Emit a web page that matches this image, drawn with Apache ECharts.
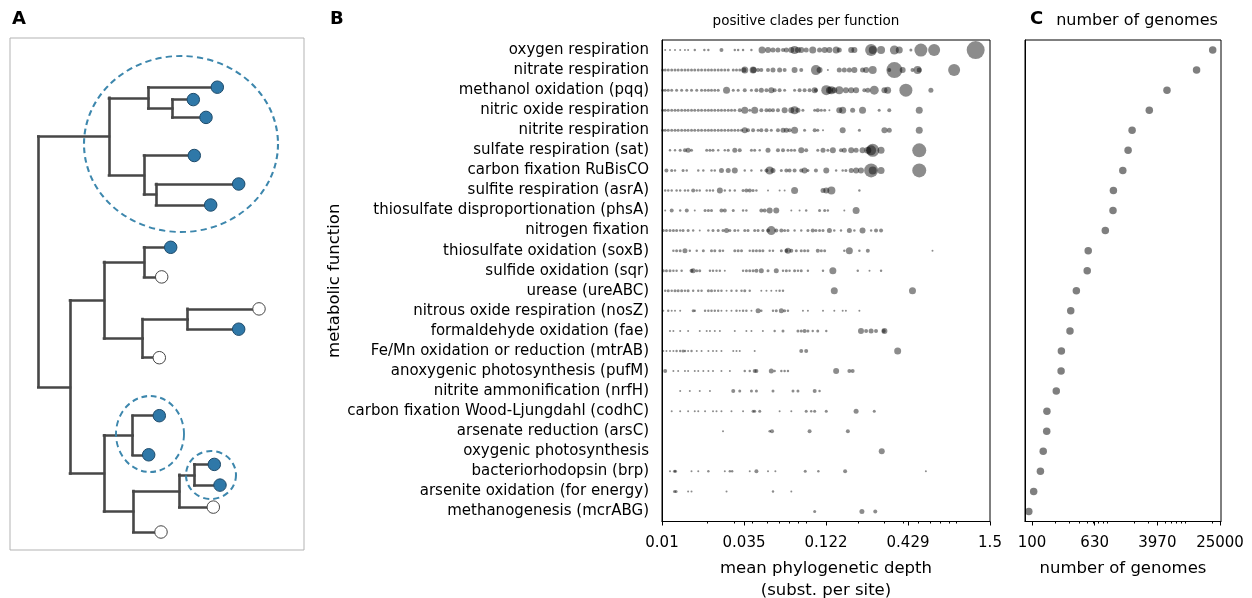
<!DOCTYPE html>
<html>
<head>
<meta charset="utf-8">
<script src="https://cdn.jsdelivr.net/npm/echarts@6/dist/echarts.min.js"></script>
<style>
  html, body { margin: 0; padding: 0; background: #fff; }
  #chart { width: 1252px; height: 598px; }
</style>
</head>
<body>
<div id="chart"></div>
<script>
var functionNames = [
  'oxygen respiration', 'nitrate respiration', 'methanol oxidation (pqq)', 'nitric oxide respiration',
  'nitrite respiration', 'sulfate respiration (sat)', 'carbon fixation RuBisCO', 'sulfite respiration (asrA)',
  'thiosulfate disproportionation (phsA)', 'nitrogen fixation', 'thiosulfate oxidation (soxB)', 'sulfide oxidation (sqr)',
  'urease (ureABC)', 'nitrous oxide respiration (nosZ)', 'formaldehyde oxidation (fae)', 'Fe/Mn oxidation or reduction (mtrAB)',
  'anoxygenic photosynthesis (pufM)', 'nitrite ammonification (nrfH)', 'carbon fixation Wood-Ljungdahl (codhC)', 'arsenate reduction (arsC)',
  'oxygenic photosynthesis', 'bacteriorhodopsin (brp)', 'arsenite oxidation (for energy)', 'methanogenesis (mcrABG)'
];

// number of genomes carrying each function (panel C)
var genomeCounts = [20180, 12570, 5270, 3135, 1892, 1682, 1439, 1092, 1079, 861, 521, 506,
  368, 312, 305, 237, 235, 204, 155, 154, 139, 128, 105, 91];

// positive clades per function: [mean phylogenetic depth, genomes in clade]
var positiveClades = [
  // oxygen respiration
  [[0.0105,4],[0.0113,4],[0.0122,4],[0.0132,4],[0.0142,4],[0.0149,4],[0.0165,6],[0.0191,6],[0.0203,6],[0.0248,16],
   [0.0304,6],[0.0320,6],[0.0345,6],[0.0392,6],[0.0461,49],[0.0505,36],[0.0545,25],[0.0588,25],[0.0635,16],[0.0668,25],
   [0.0721,36],[0.0758,64],[0.0798,36],[0.0839,36],[0.0905,25],[0.100,49],[0.111,25],[0.120,36],[0.129,36],[0.143,49],
   [0.150,25],[0.180,36],[0.189,36],[0.244,144],[0.250,64],[0.284,64],[0.348,81],[0.375,49],[0.448,9],[0.522,169],
   [0.639,144],[1.205,324]],
  // nitrate respiration
  [[0.0101,9],[0.0105,9],[0.0110,9],[0.0116,9],[0.0122,9],[0.0128,9],[0.0135,9],[0.0142,9],[0.0149,9],[0.0157,9],
   [0.0165,9],[0.0174,9],[0.0183,9],[0.0193,9],[0.0203,9],[0.0213,9],[0.0224,9],[0.0236,9],[0.0248,9],[0.0261,9],
   [0.0275,9],[0.0297,9],[0.0312,9],[0.0328,9],[0.0350,25],[0.0354,49],[0.0402,49],[0.0405,36],[0.0434,16],[0.0456,16],
   [0.0505,16],[0.0545,25],[0.0603,25],[0.0651,16],[0.0758,36],[0.0839,16],[0.105,100],[0.111,36],[0.126,4],[0.150,25],
   [0.162,25],[0.175,25],[0.189,36],[0.214,25],[0.226,36],[0.250,64],[0.322,16],[0.348,256],[0.395,36],[0.459,16],
   [0.496,64],[0.509,25],[0.867,144]],
  // methanol oxidation (pqq)
  [[0.0101,9],[0.0105,9],[0.0110,9],[0.0116,9],[0.0125,9],[0.0135,9],[0.0146,9],[0.0157,9],[0.0170,9],[0.0183,9],
   [0.0193,9],[0.0203,9],[0.0213,9],[0.0224,9],[0.0236,9],[0.0268,49],[0.0297,9],[0.0320,9],[0.0354,16],[0.0392,9],
   [0.0423,16],[0.0456,25],[0.0493,16],[0.0531,36],[0.0559,16],[0.0603,16],[0.0651,9],[0.0758,9],[0.0818,16],[0.0883,16],
   [0.0953,16],[0.103,36],[0.105,16],[0.123,100],[0.129,49],[0.133,64],[0.139,36],[0.150,64],[0.166,36],[0.180,36],
   [0.194,36],[0.220,16],[0.232,25],[0.256,81],[0.299,36],[0.314,49],[0.415,169],[0.608,25]],
  // nitric oxide respiration
  [[0.0101,9],[0.0105,9],[0.0110,9],[0.0116,9],[0.0122,9],[0.0128,9],[0.0135,9],[0.0142,9],[0.0149,9],[0.0157,9],
   [0.0165,9],[0.0174,9],[0.0183,9],[0.0193,9],[0.0203,9],[0.0213,9],[0.0224,9],[0.0236,9],[0.0248,9],[0.0261,9],
   [0.0275,9],[0.0289,9],[0.0304,9],[0.0328,16],[0.0354,49],[0.0382,9],[0.0412,49],[0.0456,16],[0.0493,16],[0.0518,16],
   [0.0545,16],[0.0588,16],[0.0651,36],[0.0721,36],[0.0758,64],[0.0798,25],[0.0861,9],[0.103,9],[0.108,16],[0.114,9],
   [0.120,9],[0.129,4],[0.150,36],[0.158,49],[0.184,25],[0.214,49],[0.276,9],[0.322,16],[0.509,49]],
  // nitrite respiration
  [[0.0101,9],[0.0105,9],[0.0110,9],[0.0116,9],[0.0122,9],[0.0128,9],[0.0135,9],[0.0142,9],[0.0149,9],[0.0157,9],
   [0.0165,9],[0.0174,9],[0.0183,9],[0.0193,9],[0.0203,9],[0.0213,9],[0.0224,9],[0.0236,9],[0.0248,9],[0.0261,9],
   [0.0275,9],[0.0289,9],[0.0304,9],[0.0320,9],[0.0337,9],[0.0354,36],[0.0372,16],[0.0402,16],[0.0434,9],[0.0456,16],
   [0.0493,16],[0.0531,9],[0.0588,16],[0.0635,25],[0.0668,25],[0.0702,16],[0.0758,49],[0.0883,9],[0.103,16],[0.108,9],
   [0.117,4],[0.158,36],[0.204,9],[0.299,36],[0.322,25],[0.509,49]],
  // sulfate respiration (sat)
  [[0.0113,6],[0.0122,6],[0.0132,9],[0.0142,16],[0.0149,25],[0.0157,9],[0.0198,9],[0.0208,9],[0.0218,9],[0.0236,6],
   [0.0261,6],[0.0275,9],[0.0304,25],[0.0328,16],[0.0392,9],[0.0412,9],[0.0445,6],[0.0505,25],[0.0588,16],[0.0635,16],
   [0.0685,9],[0.0721,9],[0.0758,9],[0.0839,36],[0.0905,16],[0.108,9],[0.117,25],[0.126,9],[0.136,36],[0.154,16],
   [0.162,25],[0.180,36],[0.194,25],[0.214,36],[0.232,49],[0.244,100],[0.250,169],[0.284,49],[0.509,196]],
  // carbon fixation RuBisCO
  [[0.0107,16],[0.0116,9],[0.0122,6],[0.0138,9],[0.0146,6],[0.0174,6],[0.0188,6],[0.0213,6],[0.0224,6],[0.0248,25],
   [0.0275,25],[0.0304,36],[0.0354,6],[0.0392,6],[0.0456,6],[0.0493,16],[0.0518,64],[0.0545,25],[0.0619,9],[0.0668,16],
   [0.0702,16],[0.0758,16],[0.0839,16],[0.0883,36],[0.0929,9],[0.105,16],[0.123,36],[0.143,6],[0.158,6],[0.166,9],
   [0.180,25],[0.194,36],[0.209,36],[0.244,196],[0.250,64],[0.284,49],[0.509,196]],
  // sulfite respiration (asrA)
  [[0.0105,6],[0.0110,6],[0.0116,6],[0.0125,6],[0.0132,6],[0.0142,6],[0.0149,6],[0.0161,16],[0.0170,6],[0.0178,6],
   [0.0198,6],[0.0208,6],[0.0218,6],[0.0242,36],[0.0261,6],[0.0282,6],[0.0304,6],[0.0345,9],[0.0363,16],[0.0382,16],
   [0.0402,9],[0.0423,6],[0.0505,4],[0.0603,4],[0.0651,4],[0.0758,49],[0.117,25],[0.123,36],[0.133,64],[0.204,6]],
  // thiosulfate disproportionation (phsA)
  [[0.0105,4],[0.0116,16],[0.0132,6],[0.0146,16],[0.0165,4],[0.0193,9],[0.0203,9],[0.0213,9],[0.0248,16],[0.0261,16],
   [0.0297,9],[0.0345,6],[0.0363,6],[0.0456,16],[0.0480,16],[0.0518,36],[0.0573,36],[0.0721,4],[0.0818,4],[0.0905,6],
   [0.111,9],[0.120,9],[0.126,6],[0.162,4],[0.194,49]],
  // nitrogen fixation
  [[0.0102,9],[0.0107,9],[0.0113,9],[0.0119,9],[0.0125,9],[0.0132,6],[0.0138,9],[0.0149,9],[0.0161,6],[0.0178,4],
   [0.0203,6],[0.0218,9],[0.0236,9],[0.0254,9],[0.0268,25],[0.0282,9],[0.0304,9],[0.0320,6],[0.0354,9],[0.0372,9],
   [0.0412,9],[0.0434,9],[0.0467,9],[0.0505,16],[0.0531,81],[0.0573,16],[0.0619,16],[0.0651,9],[0.0685,9],[0.0758,6],
   [0.0839,6],[0.0929,9],[0.100,16],[0.105,9],[0.111,9],[0.117,9],[0.129,25],[0.139,6],[0.154,6],[0.175,25],
   [0.189,6],[0.214,36],[0.244,6],[0.263,16],[0.284,16]],
  // thiosulfate oxidation (soxB)
  [[0.0119,6],[0.0125,9],[0.0132,9],[0.0142,25],[0.0153,6],[0.0170,6],[0.0188,9],[0.0213,9],[0.0224,9],[0.0242,9],
   [0.0254,6],[0.0304,9],[0.0320,9],[0.0337,9],[0.0382,6],[0.0402,9],[0.0423,9],[0.0445,9],[0.0467,9],[0.0518,6],
   [0.0545,6],[0.0619,9],[0.0668,16],[0.0685,36],[0.0721,16],[0.0778,9],[0.0839,9],[0.0883,9],[0.0929,9],[0.108,16],
   [0.114,9],[0.120,9],[0.162,6],[0.175,49],[0.204,6],[0.232,16],[0.623,4]],
  // sulfide oxidation (sqr)
  [[0.0102,9],[0.0107,9],[0.0113,9],[0.0119,6],[0.0125,6],[0.0135,6],[0.0157,16],[0.0161,25],[0.0170,9],[0.0178,9],
   [0.0208,6],[0.0218,6],[0.0230,6],[0.0242,6],[0.0261,4],[0.0345,6],[0.0363,9],[0.0382,9],[0.0402,9],[0.0423,16],
   [0.0456,25],[0.0505,9],[0.0573,25],[0.0635,6],[0.0668,9],[0.0702,6],[0.0758,9],[0.0798,6],[0.0839,9],[0.0929,6],
   [0.117,6],[0.136,49],[0.199,6],[0.238,4],[0.284,6]],
  // urease (ureABC)
  [[0.0105,6],[0.0110,9],[0.0116,6],[0.0122,9],[0.0128,9],[0.0135,9],[0.0142,6],[0.0149,9],[0.0161,6],[0.0174,6],
   [0.0183,6],[0.0203,9],[0.0213,9],[0.0224,6],[0.0236,6],[0.0248,6],[0.0268,4],[0.0289,6],[0.0312,6],[0.0337,6],
   [0.0354,9],[0.0382,6],[0.0456,4],[0.0493,4],[0.0531,4],[0.0573,4],[0.0603,6],[0.0635,6],[0.139,49],[0.459,49]],
  // nitrous oxide respiration (nosZ)
  [[0.0102,4],[0.0110,6],[0.0116,4],[0.0122,4],[0.0132,4],[0.0161,9],[0.0165,6],[0.0193,6],[0.0203,6],[0.0213,6],
   [0.0224,6],[0.0236,6],[0.0248,4],[0.0268,4],[0.0289,4],[0.0312,6],[0.0328,4],[0.0345,6],[0.0363,6],[0.0392,4],
   [0.0434,25],[0.0456,6],[0.0545,6],[0.0573,9],[0.0619,25],[0.0651,9],[0.0685,6],[0.0861,4],[0.0929,4],[0.117,4],
   [0.139,4],[0.158,4],[0.166,4],[0.204,4]],
  // formaldehyde oxidation (fae)
  [[0.0113,4],[0.0119,4],[0.0132,4],[0.0149,4],[0.0178,4],[0.0198,4],[0.0208,4],[0.0224,4],[0.0242,4],[0.0304,4],
   [0.0363,4],[0.0392,4],[0.0467,4],[0.0559,6],[0.0635,9],[0.0798,9],[0.0839,9],[0.0883,16],[0.0929,9],[0.100,6],
   [0.108,9],[0.123,6],[0.209,36],[0.226,16],[0.244,25],[0.263,16],[0.296,16],[0.299,36]],
  // Fe/Mn oxidation or reduction (mtrAB)
  [[0.0102,4],[0.0107,4],[0.0113,4],[0.0119,4],[0.0125,6],[0.0132,6],[0.0138,9],[0.0142,6],[0.0149,4],[0.0157,6],
   [0.0170,4],[0.0183,4],[0.0203,4],[0.0218,4],[0.0230,4],[0.0248,4],[0.0297,4],[0.0312,4],[0.0328,4],[0.0412,4],
   [0.0839,16],[0.0905,16],[0.366,49]],
  // anoxygenic photosynthesis (pufM)
  [[0.0105,16],[0.0119,4],[0.0128,4],[0.0142,4],[0.0149,4],[0.0165,4],[0.0174,4],[0.0188,4],[0.0203,4],[0.0218,4],
   [0.0248,4],[0.0282,4],[0.0354,6],[0.0382,6],[0.0412,16],[0.0423,16],[0.0531,25],[0.0559,6],[0.0619,6],[0.0651,6],
   [0.0685,6],[0.143,36],[0.175,16],[0.184,16]],
  // nitrite ammonification (nrfH)
  [[0.0132,4],[0.0153,4],[0.0178,4],[0.0208,4],[0.0297,16],[0.0328,9],[0.0392,9],[0.0423,9],[0.0545,9],[0.0740,9],
   [0.0798,9],[0.103,16],[0.111,6]],
  // carbon fixation Wood-Ljungdahl (codhC)
  [[0.0116,4],[0.0132,4],[0.0149,4],[0.0165,4],[0.0174,4],[0.0193,4],[0.0218,4],[0.0230,4],[0.0248,4],[0.0289,4],
   [0.0345,4],[0.0402,9],[0.0412,9],[0.0445,9],[0.0603,4],[0.0721,4],[0.0905,9],[0.0977,6],[0.103,9],[0.123,9],
   [0.194,25],[0.256,9]],
  // arsenate reduction (arsC)
  [[0.0254,4],[0.0518,6],[0.0537,16],[0.0953,16],[0.171,16]],
  // oxygenic photosynthesis
  [[0.287,36]],
  // bacteriorhodopsin (brp)
  [[0.0113,4],[0.0121,9],[0.0123,9],[0.0157,4],[0.0174,4],[0.0203,6],[0.0261,4],[0.0282,6],[0.0292,6],[0.0382,4],
   [0.0423,16],[0.0505,4],[0.0565,4],[0.0892,9],[0.109,6],[0.164,16],[0.563,4]],
  // arsenite oxidation (for energy)
  [[0.0121,9],[0.0124,9],[0.0149,4],[0.0157,4],[0.0268,4],[0.0545,6],[0.0721,4]],
  // methanogenesis (mcrABG)
  [[0.103,9],[0.212,25],[0.260,16]]
];

var depthTicks = [0.01, 0.035, 0.1225, 0.42875, 1.5];
var depthTickLabels = ['0.01', '0.035', '0.122', '0.429', '1.5'];
var depthMinorTicks = [0.02, 0.03, 0.04, 0.05, 0.06, 0.07, 0.08, 0.09, 0.2, 0.3, 0.4, 0.5, 0.6, 0.7, 0.8, 0.9];
var genomeTicks = [100, 630, 3969, 25004];
var genomeTickLabels = ['100', '630', '3970', '25000'];
var genomeMinorTicks = [200, 300, 400, 500, 600, 700, 800, 900, 2000, 3000, 4000, 5000, 6000, 7000, 8000, 9000, 20000];

// panel A: schematic species tree; leaf = [branch length, vertical position, function present]
var speciesTree = {len: 0, kids: [
  {len: 70.7, kids: [
    {len: 39.3, kids: [[69, 49.2, 1], {len: 24, kids: [[21, 61.6, 1], [33.7, 79.4, 1]]}]},
    {len: 35, kids: [[50.3, 117.5, 1], {len: 12, kids: [[82.7, 146, 1], [54.7, 167, 1]]}]}
  ]},
  {len: 31.7, kids: [
    {len: 34, kids: [
      {len: 40, kids: [[26.7, 209.3, 1], [17.7, 238.9, 0]]},
      {len: 38.7, kids: [{len: 45, kids: [[71.3, 270.9, 0], [51, 291.2, 1]]}, [16.6, 319.7, 0]]}
    ]},
    {len: 34, kids: [
      {len: 28.7, kids: [[26.6, 377.7, 1], [16, 416.8, 1]]},
      {len: 29.3, kids: [{len: 46, kids: [{len: 15, kids: [[20, 426.4, 1], [25.7, 447.1, 1]]}, [34, 469.1, 0]]}, [27.7, 494, 0]]}
    ]}
  ]}
]};
// positive clades marked on the tree: [depth, position, half width, half height]
var markedClades = [[142.7, 106, 97, 88], [111.7, 396, 34, 38], [172.7, 437, 25, 24]];

var treeEdges = [], treeTips = [];
function layoutTree(node, parentX) {
  var isLeaf = Array.isArray(node);
  var x = parentX + (isLeaf ? node[0] : node.len);
  if (isLeaf) {
    treeTips.push([x, node[1], node[2]]);
    treeEdges.push([[parentX, node[1]], [x, node[1]]]);
    return node[1];
  }
  var ys = node.kids.map(function (k) { return layoutTree(k, x); });
  var y = (ys[0] + ys[ys.length - 1]) / 2;
  treeEdges.push([[x, ys[0]], [x, ys[ys.length - 1]]]);
  if (node.len > 0) treeEdges.push([[parentX, y], [x, y]]);
  return y;
}
layoutTree(speciesTree, 0);

var cladePoints = [];
positiveClades.forEach(function (row, i) {
  row.forEach(function (c) { cladePoints.push([c[0], functionNames[i], c[1]]); });
});

function tickLabel(ticks, labels) {
  return function (v) {
    for (var i = 0; i < ticks.length; i++) {
      if (Math.abs(ticks[i] - v) / ticks[i] < 0.01) return labels[i];
    }
    return '';
  };
}

var font = 'DejaVu Sans';
var black = '#000';
var labelSize = 15;
var nameSize = 16.5;

function majorAxis(grid, min, max, ticks, labels, name) {
  return {
    gridIndex: grid, type: 'log', logBase: 10, min: min, max: max, position: 'bottom',
    axisLine: { show: true, lineStyle: { color: black, width: 1 } },
    axisTick: { show: true, customValues: ticks, length: 4, lineStyle: { color: black } },
    axisLabel: { customValues: ticks, formatter: tickLabel(ticks, labels), color: black,
      fontSize: labelSize, fontFamily: font, margin: 14 },
    splitLine: { show: false },
    name: name, nameLocation: 'middle', nameGap: 36,
    nameTextStyle: { color: black, fontSize: nameSize, fontFamily: font, lineHeight: 22 }
  };
}
function minorAxis(grid, min, max, ticks) {
  return {
    gridIndex: grid, type: 'log', logBase: 10, min: min, max: max, position: 'bottom',
    axisLine: { show: false },
    axisTick: { show: true, customValues: ticks, length: 2, lineStyle: { color: black } },
    axisLabel: { show: false },
    splitLine: { show: false }
  };
}

var chart = echarts.init(document.getElementById('chart'));
chart.setOption({
  animation: false,
  textStyle: { fontFamily: font },
  graphic: [
    { type: 'text', x: 12, y: 10, style: { text: 'A', font: 'bold 18px "DejaVu Sans"', fill: black } },
    { type: 'text', x: 330, y: 10, style: { text: 'B', font: 'bold 18px "DejaVu Sans"', fill: black } },
    { type: 'text', x: 1030, y: 10, style: { text: 'C', font: 'bold 18px "DejaVu Sans"', fill: black } },
    { type: 'text', x: 806, y: 21, style: { text: 'positive clades per function', font: '13.5px "DejaVu Sans"',
      fill: black, align: 'center', verticalAlign: 'middle' } },
    { type: 'text', x: 1137, y: 21, style: { text: 'number of genomes', font: '16px "DejaVu Sans"',
      fill: black, align: 'center', verticalAlign: 'middle' } }
  ],
  grid: [
    { left: 10, top: 38, width: 294, height: 512, show: true, borderColor: '#b3b3b3', borderWidth: 1, outerBoundsMode: 'none' },
    { left: 662, top: 40, width: 328, height: 481.5, show: true, borderColor: black, borderWidth: 1, outerBoundsMode: 'none' },
    { left: 1025, top: 40, width: 196, height: 481.5, show: true, borderColor: black, borderWidth: 1, outerBoundsMode: 'none' }
  ],
  xAxis: [
    { gridIndex: 0, type: 'value', min: -28.3, max: 265.7, show: false },
    majorAxis(1, 0.01, 1.5, depthTicks, depthTickLabels, 'mean phylogenetic depth\n(subst. per site)'),
    minorAxis(1, 0.01, 1.5, depthMinorTicks),
    majorAxis(2, 81.4, 25750, genomeTicks, genomeTickLabels, 'number of genomes'),
    minorAxis(2, 81.4, 25750, genomeMinorTicks)
  ],
  yAxis: [
    { gridIndex: 0, type: 'value', min: 0, max: 512, inverse: true, show: false },
    {
      gridIndex: 1, type: 'category', data: functionNames, inverse: true,
      axisLine: { lineStyle: { color: black } },
      axisTick: { alignWithLabel: true, length: 4, lineStyle: { color: black } },
      axisLabel: { color: black, fontSize: labelSize, fontFamily: font, margin: 13 },
      name: 'metabolic function', nameLocation: 'middle', nameRotate: 90, nameGap: 315,
      nameTextStyle: { color: black, fontSize: nameSize, fontFamily: font }
    },
    {
      gridIndex: 2, type: 'category', data: functionNames, inverse: true,
      axisLine: { lineStyle: { color: black } },
      axisTick: { alignWithLabel: true, length: 4, lineStyle: { color: black } },
      axisLabel: { show: false }
    }
  ],
  series: [
    {
      type: 'lines', coordinateSystem: 'cartesian2d', xAxisIndex: 0, yAxisIndex: 0, silent: true,
      data: treeEdges.map(function (c) { return { coords: c }; }),
      lineStyle: { color: '#474747', width: 2.6, opacity: 1, cap: 'square', curveness: 0 }
    },
    {
      type: 'scatter', xAxisIndex: 0, yAxisIndex: 0, silent: true,
      data: markedClades,
      symbolSize: function (v) { return [2 * v[2], 2 * v[3]]; },
      itemStyle: { color: 'rgba(0,0,0,0)', borderColor: '#3d87ad', borderWidth: 2, borderType: [6, 4], opacity: 1 }
    },
    {
      type: 'scatter', xAxisIndex: 0, yAxisIndex: 0, silent: true, symbolSize: 12.5,
      data: treeTips.map(function (t) {
        return { value: t, itemStyle: t[2]
          ? { color: '#2f78a8', borderColor: '#1d4a6a', borderWidth: 1, opacity: 1 }
          : { color: '#fff', borderColor: '#444', borderWidth: 1, opacity: 1 } };
      })
    },
    {
      type: 'scatter', xAxisIndex: 1, yAxisIndex: 1, silent: true,
      data: cladePoints,
      symbolSize: function (v) { return Math.sqrt(v[2]); },
      itemStyle: { color: 'rgba(0,0,0,0.45)', opacity: 1 }
    },
    {
      type: 'scatter', xAxisIndex: 3, yAxisIndex: 2, silent: true, symbolSize: 7.5,
      data: genomeCounts.map(function (g, i) { return [g, functionNames[i]]; }),
      itemStyle: { color: 'rgba(0,0,0,0.5)', opacity: 1 }
    }
  ]
});
</script>
</body>
</html>
